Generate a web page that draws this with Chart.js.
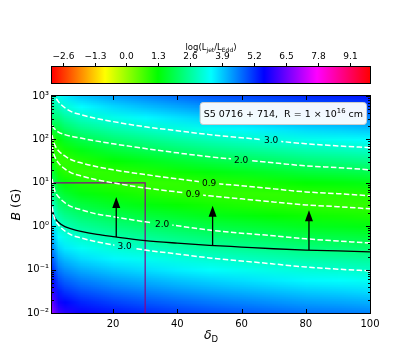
<!DOCTYPE html>
<html>
<head>
<meta charset="utf-8">
<script src="https://cdn.jsdelivr.net/npm/chart.js@4.4.1/dist/chart.umd.min.js"></script>
<style>
  html, body { margin: 0; padding: 0; background: #fff; }
  canvas { display: block; }
</style>
</head>
<body>
<canvas id="chart" width="411" height="353"></canvas>
<script>
// ── Axes / colour scale ──
const xTicks = [20, 40, 60, 80, 100];
const yTicks = [0.01, 0.1, 1, 10, 100, 1000];
const cbTicks = [-2.6, -1.3, 0.0, 1.3, 2.6, 3.9, 5.2, 6.5, 7.8, 9.1];
const cbMin = -3.03;
const cbMax = 9.91;

// ── Heatmap: log(Ljet/LEdd) read at these delta / log B nodes ──
const heatDelta = [1, 3, 5, 10, 20, 30, 40, 50, 60, 70, 80, 90, 100];
const heatLogB = [3, 2.75, 2.5, 2.25, 2, 1.75, 1.5, 1.25, 1, 0.75, 0.5, 0.25, 0,
                  -0.25, -0.5, -0.75, -1, -1.25, -1.5, -1.75, -2];
const heatValues = [
  [2.90, 3.33, 3.60, 3.93, 4.25, 4.47, 4.67, 4.85, 4.99, 5.13, 5.27, 5.35, 5.45],
  [2.60, 2.83, 3.10, 3.43, 3.75, 3.97, 4.17, 4.35, 4.49, 4.63, 4.77, 4.85, 4.95],
  [2.30, 2.33, 2.60, 2.93, 3.25, 3.47, 3.67, 3.85, 3.99, 4.13, 4.27, 4.35, 4.45],
  [1.75, 1.83, 2.10, 2.43, 2.75, 2.97, 3.17, 3.35, 3.49, 3.63, 3.77, 3.85, 3.95],
  [0.90, 1.35, 1.61, 1.93, 2.25, 2.47, 2.67, 2.85, 2.99, 3.13, 3.27, 3.35, 3.45],
  [0.98, 0.96, 1.15, 1.44, 1.75, 1.97, 2.17, 2.35, 2.49, 2.63, 2.77, 2.85, 2.95],
  [1.38, 0.87, 0.87, 1.02, 1.28, 1.48, 1.67, 1.85, 1.99, 2.13, 2.27, 2.35, 2.45],
  [1.76, 1.13, 0.97, 0.86, 0.91, 1.04, 1.20, 1.37, 1.50, 1.63, 1.77, 1.85, 1.95],
  [2.15, 1.50, 1.30, 1.07, 0.90, 0.85, 0.87, 0.97, 1.05, 1.17, 1.29, 1.37, 1.46],
  [2.53, 1.88, 1.67, 1.42, 1.19, 1.04, 0.93, 0.86, 0.86, 0.87, 0.92, 0.97, 1.03],
  [2.92, 2.27, 2.06, 1.81, 1.56, 1.39, 1.24, 1.12, 1.03, 0.95, 0.89, 0.86, 0.86],
  [3.31, 2.66, 2.45, 2.19, 1.95, 1.77, 1.62, 1.48, 1.38, 1.27, 1.17, 1.12, 1.05],
  [3.70, 3.05, 2.84, 2.58, 2.33, 2.16, 2.01, 1.87, 1.76, 1.65, 1.54, 1.48, 1.41],
  [4.08, 3.43, 3.22, 2.97, 2.72, 2.55, 2.39, 2.26, 2.15, 2.04, 1.93, 1.87, 1.79],
  [4.47, 3.82, 3.61, 3.36, 3.11, 2.94, 2.78, 2.64, 2.53, 2.43, 2.32, 2.26, 2.18],
  [4.86, 4.21, 4.00, 3.74, 3.50, 3.32, 3.17, 3.03, 2.92, 2.81, 2.70, 2.64, 2.57],
  [5.25, 4.60, 4.39, 4.13, 3.88, 3.71, 3.56, 3.42, 3.31, 3.20, 3.09, 3.03, 2.95],
  [5.63, 4.98, 4.77, 4.52, 4.27, 4.10, 3.94, 3.81, 3.70, 3.59, 3.48, 3.42, 3.34],
  [6.02, 5.37, 5.16, 4.91, 4.66, 4.49, 4.33, 4.19, 4.08, 3.98, 3.87, 3.81, 3.73],
  [6.41, 5.76, 5.55, 5.29, 5.05, 4.87, 4.72, 4.58, 4.47, 4.36, 4.25, 4.19, 4.12],
  [6.80, 6.15, 5.94, 5.68, 5.43, 5.26, 5.11, 4.97, 4.86, 4.75, 4.64, 4.58, 4.50]
];

// ── Dashed contours (log10 B at each delta) ──
const contourDelta = [1, 1.5, 2, 3, 5, 7, 10, 15, 20, 30, 40, 50, 60, 70, 80, 90, 100];
const contour30Up  = [3.29, 3.10, 2.99, 2.87, 2.73, 2.64, 2.57, 2.48, 2.41, 2.29, 2.20, 2.11, 2.04, 1.97, 1.90, 1.85, 1.81];
const contour20Up  = [2.32, 2.27, 2.23, 2.17, 2.11, 2.07, 2.03, 1.96, 1.90, 1.79, 1.69, 1.60, 1.53, 1.46, 1.39, 1.35, 1.30];
const contour09Up  = [2.10, 1.94, 1.85, 1.74, 1.62, 1.53, 1.46, 1.37, 1.30, 1.19, 1.09, 1.00, 0.93, 0.86, 0.79, 0.75, 0.70];
const contour09Low = [1.85, 1.68, 1.58, 1.46, 1.32, 1.23, 1.16, 1.07, 1.00, 0.88, 0.79, 0.70, 0.63, 0.56, 0.49, 0.45, 0.40];
const contour20Low = [1.09, 0.91, 0.79, 0.68, 0.54, 0.45, 0.38, 0.28, 0.22, 0.10, 0.01, -0.09, -0.16, -0.22, -0.29, -0.34, -0.39];
const contour30Low = [0.45, 0.26, 0.15, 0.03, -0.11, -0.20, -0.27, -0.36, -0.43, -0.55, -0.64, -0.73, -0.80, -0.87, -0.94, -0.99, -1.03];
const contourLabels = ['3.0', '2.0', '0.9', '0.9', '2.0', '3.0'];
const labelDelta = [69.2, 59.9, 49.9, 44.9, 35.3, 23.6];
const labelLogB = [1.975, 1.53, 1.00, 0.745, 0.05, -0.47];

// ── Black limit curve ──
const curveDelta = [1, 1.5, 2, 3, 5, 7, 10, 15, 20, 30, 40, 50, 60, 70, 80, 90, 100];
const curveLogB = [0.40, 0.27, 0.18, 0.09, -0.01, -0.06, -0.12, -0.19, -0.24, -0.33, -0.39, -0.44, -0.48, -0.52, -0.55, -0.57, -0.59];

// ── Arrows (lower limits) ──
const arrowDelta = [21, 51, 81];
const arrowFromLogB = [-0.25, -0.44, -0.55];
const arrowToLogB = [0.67, 0.47, 0.37];

// ── Box ──
const boxDelta = [1, 30, 30];
const boxB = [10, 10, 0.01];

const FONT = "'DejaVu Sans', sans-serif";
const SUP = { '-': '\u207B', '0': '\u2070', '1': '\u00B9', '2': '\u00B2', '3': '\u00B3' };

const toPoints = (xs, logs) => xs.map((x, i) => ({ x, y: Math.pow(10, logs[i]) }));

// hsv colormap
function valueToRGB(v) {
  let t = (v - cbMin) / (cbMax - cbMin);
  t = Math.min(1, Math.max(0, t));
  const h = t * 6;
  const i = Math.floor(h) % 6;
  const f = h - Math.floor(h);
  const s = [[1, f, 0], [1 - f, 1, 0], [0, 1, f], [0, 1 - f, 1], [f, 0, 1], [1, 0, 1 - f]][i];
  return s.map(c => Math.round(c * 255));
}

let heatCanvas = null;
function buildHeatCanvas() {
  const cols = heatDelta.length, rows = heatLogB.length;
  const c = document.createElement('canvas');
  c.width = cols; c.height = rows;
  const cx = c.getContext('2d');
  const img = cx.createImageData(cols, rows);
  heatValues.forEach((row, r) => row.forEach((v, k) => {
    const [R, G, B] = valueToRGB(v);
    const o = (r * cols + k) * 4;
    img.data[o] = R; img.data[o + 1] = G; img.data[o + 2] = B; img.data[o + 3] = 255;
  }));
  cx.putImageData(img, 0, 0);
  return c;
}

// ── Heatmap plugin ──
const heatmapPlugin = {
  id: 'heatmap',
  beforeDatasetsDraw(chart) {
    const { ctx, chartArea: a, scales: { x, y } } = chart;
    if (!heatCanvas) heatCanvas = buildHeatCanvas();
    const rows = heatLogB.length;
    const yTop = y.getPixelForValue(Math.pow(10, heatLogB[0]));
    const yBot = y.getPixelForValue(Math.pow(10, heatLogB[rows - 1]));
    const rh = (yBot - yTop) / (rows - 1);
    ctx.save();
    ctx.imageSmoothingEnabled = true;
    for (let i = 0; i < heatDelta.length - 1; i++) {
      const x0 = x.getPixelForValue(heatDelta[i]);
      const x1 = x.getPixelForValue(heatDelta[i + 1]);
      const w = x1 - x0;
      const cl = Math.max(x0 - 0.5, a.left), cr = Math.min(x1 + 0.5, a.right);
      ctx.save();
      ctx.beginPath();
      ctx.rect(cl, a.top, cr - cl, a.bottom - a.top);
      ctx.clip();
      ctx.drawImage(heatCanvas, i, 0, 2, rows, x0 - w / 2, yTop - rh / 2, 2 * w, rh * rows);
      ctx.restore();
    }
    ctx.restore();
  }
};

// ── Cut the dashed contours where their labels sit ──
const contourSets = [contour30Up, contour20Up, contour09Up, contour09Low, contour20Low, contour30Low];
const labelFont = `9px ${FONT}`;
const gapPlugin = {
  id: 'contourGap',
  beforeDatasetDraw(chart, args) {
    if (args.index >= contourSets.length) return;
    const { ctx, chartArea: a, scales: { x, y } } = chart;
    const i = args.index;
    ctx.save();
    ctx.font = labelFont;
    const w = ctx.measureText(contourLabels[i]).width + 6;
    const px = x.getPixelForValue(labelDelta[i]);
    const py = y.getPixelForValue(Math.pow(10, labelLogB[i]));
    ctx.beginPath();
    ctx.rect(a.left, a.top, a.right - a.left, a.bottom - a.top);
    ctx.rect(px - w / 2, py - 6, w, 12);
    ctx.clip('evenodd');
  },
  afterDatasetDraw(chart, args) {
    if (args.index < contourSets.length) chart.ctx.restore();
  }
};

// ── Labels, arrows, text box ──
const overlayPlugin = {
  id: 'overlay',
  afterDatasetsDraw(chart) {
    const { ctx, chartArea: a, scales: { x, y } } = chart;
    ctx.save();
    ctx.beginPath();
    ctx.rect(a.left, a.top, a.right - a.left, a.bottom - a.top);
    ctx.clip();

    // contour labels
    ctx.fillStyle = '#000';
    ctx.font = labelFont;
    ctx.textAlign = 'center';
    ctx.textBaseline = 'middle';
    contourLabels.forEach((t, i) => {
      ctx.fillText(t, x.getPixelForValue(labelDelta[i]), y.getPixelForValue(Math.pow(10, labelLogB[i])) + 0.5);
    });

    // arrows
    ctx.strokeStyle = '#000';
    ctx.lineWidth = 1.3;
    arrowDelta.forEach((d, i) => {
      const px = x.getPixelForValue(d);
      const p0 = y.getPixelForValue(Math.pow(10, arrowFromLogB[i]));
      const p1 = y.getPixelForValue(Math.pow(10, arrowToLogB[i]));
      ctx.beginPath();
      ctx.moveTo(px, p0);
      ctx.lineTo(px, p1 + 8);
      ctx.stroke();
      ctx.beginPath();
      ctx.moveTo(px, p1);
      ctx.lineTo(px - 4, p1 + 11);
      ctx.lineTo(px + 4, p1 + 11);
      ctx.closePath();
      ctx.fill();
    });
    ctx.restore();

    // annotation box (upper right)
    ctx.save();
    const big = `9.5px ${FONT}`, small = `6.8px ${FONT}`;
    const partA = 'S5 0716 + 714,  R = 1 \u00D7 10', partB = '16', partC = ' cm';
    ctx.font = big;
    const wa = ctx.measureText(partA).width, wc = ctx.measureText(partC).width;
    ctx.font = small;
    const wb = ctx.measureText(partB).width;
    const tw = wa + wb + wc;
    const bx1 = a.right - 4, bx0 = bx1 - tw - 7, by0 = a.top + 6, bh = 22;
    ctx.fillStyle = 'rgba(255,255,255,0.95)';
    ctx.strokeStyle = '#cccccc';
    ctx.lineWidth = 1;
    ctx.beginPath();
    ctx.roundRect(bx0 + 0.5, by0 + 0.5, bx1 - bx0, bh, 3);
    ctx.fill();
    ctx.stroke();
    ctx.fillStyle = '#000';
    ctx.textBaseline = 'alphabetic';
    ctx.textAlign = 'left';
    const base = by0 + 15;
    let tx = bx0 + 4;
    ctx.font = big; ctx.fillText(partA, tx, base); tx += wa;
    ctx.font = small; ctx.fillText(partB, tx, base - 4); tx += wb;
    ctx.font = big; ctx.fillText(partC, tx, base);
    ctx.restore();
  }
};

// ── Frame, inward ticks, colour bar, axis titles ──
const framePlugin = {
  id: 'frame',
  afterDraw(chart) {
    const { ctx, chartArea: a, scales: { x, y } } = chart;
    ctx.save();
    ctx.strokeStyle = '#000';
    ctx.lineWidth = 1;
    ctx.strokeRect(a.left - 0.5, a.top - 0.5, a.right - a.left + 1, a.bottom - a.top + 1);

    ctx.beginPath();
    xTicks.forEach(v => {
      const px = Math.round(x.getPixelForValue(v)) + 0.5;
      ctx.moveTo(px, a.bottom); ctx.lineTo(px, a.bottom - 4);
      ctx.moveTo(px, a.top); ctx.lineTo(px, a.top + 4);
    });
    yTicks.forEach((v, k) => {
      const py = Math.round(y.getPixelForValue(v)) + 0.5;
      ctx.moveTo(a.left, py); ctx.lineTo(a.left + 4, py);
      ctx.moveTo(a.right, py); ctx.lineTo(a.right - 4, py);
      if (k === yTicks.length - 1) return;
      for (let m = 2; m <= 9; m++) {
        const pm = Math.round(y.getPixelForValue(v * m)) + 0.5;
        ctx.moveTo(a.left, pm); ctx.lineTo(a.left + 2, pm);
        ctx.moveTo(a.right, pm); ctx.lineTo(a.right - 2, pm);
      }
    });
    ctx.stroke();

    // colour bar
    const cbTop = 67, cbBot = 83;
    const grad = ctx.createLinearGradient(a.left, 0, a.right, 0);
    for (let k = 0; k <= 60; k++) {
      const v = cbMin + (cbMax - cbMin) * k / 60;
      const [R, G, B] = valueToRGB(v);
      grad.addColorStop(k / 60, `rgb(${R},${G},${B})`);
    }
    ctx.fillStyle = grad;
    ctx.fillRect(a.left, cbTop, a.right - a.left, cbBot - cbTop);
    ctx.strokeRect(a.left - 0.5, cbTop - 0.5, a.right - a.left + 1, cbBot - cbTop + 1);
    ctx.fillStyle = '#000';
    ctx.font = `9px ${FONT}`;
    ctx.textAlign = 'center';
    ctx.textBaseline = 'middle';
    ctx.beginPath();
    cbTicks.forEach(v => {
      const px = Math.round(a.left + (v - cbMin) / (cbMax - cbMin) * (a.right - a.left)) + 0.5;
      ctx.moveTo(px, cbTop - 0.5); ctx.lineTo(px, cbTop - 4);
      ctx.fillText(v.toFixed(1).replace('-', '\u2212'), px, 57);
    });
    ctx.stroke();

    // colour bar title: log(L_jet/L_Edd)
    const parts = [['log(L', 8.5, 0], ['jet', 6, 2], ['/L', 8.5, 0], ['Edd', 6, 2], [')', 8.5, 0]];
    let total = 0;
    parts.forEach(p => { ctx.font = `${p[1]}px ${FONT}`; total += ctx.measureText(p[0]).width; });
    let tx = (a.left + a.right) / 2 - total / 2;
    ctx.textAlign = 'left';
    ctx.textBaseline = 'alphabetic';
    parts.forEach(p => {
      ctx.font = `${p[1]}px ${FONT}`;
      ctx.fillText(p[0], tx, 50 + p[2]);
      tx += ctx.measureText(p[0]).width;
    });

    // x title: delta_D
    ctx.font = `italic 12.5px ${FONT}`;
    const wd = ctx.measureText('\u03B4').width;
    ctx.font = `8.5px ${FONT}`;
    const wD = ctx.measureText('D').width;
    const cx0 = (a.left + a.right) / 2 - (wd + wD) / 2;
    ctx.font = `italic 12.5px ${FONT}`;
    ctx.fillText('\u03B4', cx0, 339);
    ctx.font = `8.5px ${FONT}`;
    ctx.fillText('D', cx0 + wd, 342);

    // y title: B (G)
    ctx.translate(19.5, (a.top + a.bottom) / 2);
    ctx.rotate(-Math.PI / 2);
    ctx.font = `italic 12.5px ${FONT}`;
    const wB = ctx.measureText('B').width;
    ctx.font = `12.5px ${FONT}`;
    const wG = ctx.measureText(' (G)').width;
    ctx.font = `italic 12.5px ${FONT}`;
    ctx.fillText('B', -(wB + wG) / 2, 0);
    ctx.font = `12.5px ${FONT}`;
    ctx.fillText(' (G)', -(wB + wG) / 2 + wB, 0);
    ctx.restore();
  }
};

const contourStyle = {
  borderColor: '#ffffff',
  borderWidth: 1.5,
  borderDash: [5.5, 2.4],
  pointRadius: 0,
  fill: false,
  cubicInterpolationMode: 'monotone',
  clip: 0
};

new Chart(document.getElementById('chart'), {
  type: 'line',
  data: {
    datasets: [
      ...contourSets.map(logs => ({ data: toPoints(contourDelta, logs), ...contourStyle })),
      {
        data: toPoints(curveDelta, curveLogB),
        borderColor: '#000',
        borderWidth: 1.3,
        pointRadius: 0,
        fill: false,
        cubicInterpolationMode: 'monotone',
        clip: 0
      },
      {
        data: boxDelta.map((d, i) => ({ x: d, y: boxB[i] })),
        borderColor: '#8b008b',
        borderWidth: 1.2,
        pointRadius: 0,
        fill: false,
        tension: 0,
        clip: 0
      }
    ]
  },
  options: {
    responsive: false,
    devicePixelRatio: 1,
    animation: false,
    events: [],
    layout: { padding: { top: 96, right: 41, left: 0, bottom: 0 } },
    plugins: { legend: { display: false }, tooltip: { enabled: false } },
    scales: {
      x: {
        type: 'linear',
        min: 1,
        max: 100,
        grid: { display: false, drawTicks: false },
        border: { display: false },
        ticks: { color: '#000', font: { family: FONT, size: 10 }, padding: 5, autoSkip: false, maxRotation: 0 },
        afterBuildTicks: s => { s.ticks = xTicks.map(value => ({ value })); },
        afterFit: s => { s.height = 40; }
      },
      y: {
        type: 'logarithmic',
        min: 0.01,
        max: 1000,
        grid: { display: false, drawTicks: false },
        border: { display: false },
        ticks: {
          color: '#000',
          font: { family: FONT, size: 10 },
          padding: 3,
          autoSkip: false,
          callback: v => '10' + String(Math.round(Math.log10(v))).split('').map(ch => SUP[ch]).join('')
        },
        afterBuildTicks: s => { s.ticks = yTicks.map(value => ({ value })); },
        afterFit: s => { s.width = 52; }
      }
    }
  },
  plugins: [heatmapPlugin, gapPlugin, overlayPlugin, framePlugin]
});
</script>
</body>
</html>
